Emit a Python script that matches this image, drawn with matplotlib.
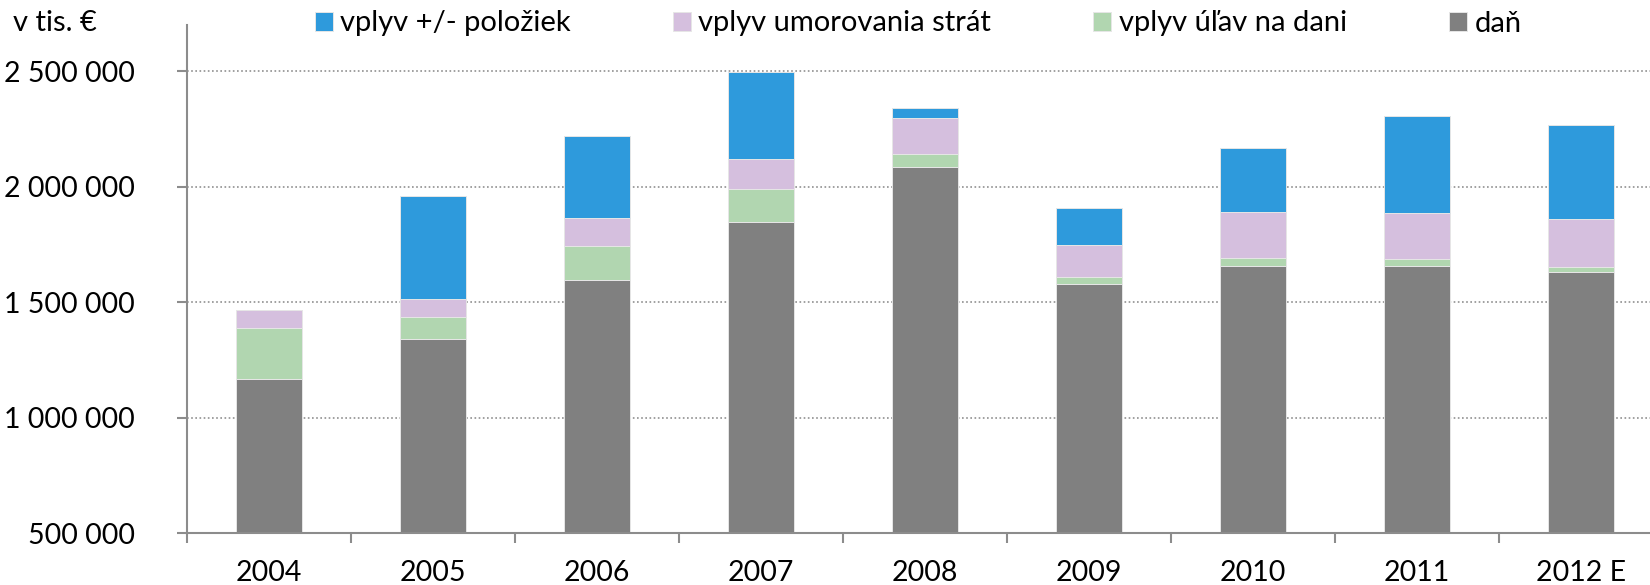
import numpy as np
import matplotlib.pyplot as plt
from matplotlib.ticker import FuncFormatter, FixedLocator

plt.rcParams['font.family'] = ['Lato', 'DejaVu Sans']

# hodnoty v tis. EUR, odčítané z grafu
roky = ["2004", "2005", "2006", "2007", "2008", "2009", "2010", "2011", "2012 E"]
dan = [1168700, 1343100, 1596700, 1847400, 2085100, 1580800, 1657300, 1658600, 1631300]
ulavy = [218000, 92400, 147000, 141400, 56200, 30200, 33200, 27600, 21600]
umorovanie = [79100, 79100, 119700, 129600, 155600, 135700, 200200, 200100, 207500]
polozky = [0, 445200, 355600, 377300, 43200, 161200, 277900, 420600, 406300]

c_blue = "#2E9ADC"
c_lilac = "#D5BFDE"
c_green = "#B1D6B0"
c_gray = "#808080"
c_axis = "#8C8C8C"
fs = 20.5
fs_leg = 21

fig = plt.figure(figsize=(16.5, 5.85), dpi=100)
ax = fig.add_axes([187/1650, 1-533.3/585, 1476/1650, (533.3-25)/585])

x = np.arange(len(roky))
w = 0.4
ek = dict(edgecolor="#E6E6E6", linewidth=0.7, zorder=3)
b0 = np.zeros(len(roky))
h_dan = ax.bar(x, dan, w, bottom=b0, color=c_gray, **ek)
b1 = b0 + np.array(dan)
h_ul = ax.bar(x, ulavy, w, bottom=b1, color=c_green, **ek)
b2 = b1 + np.array(ulavy)
h_um = ax.bar(x, umorovanie, w, bottom=b2, color=c_lilac, **ek)
b3 = b2 + np.array(umorovanie)
h_po = ax.bar(x, polozky, w, bottom=b3, color=c_blue, **ek)

ax.set_xlim(-0.5, len(roky)-0.5)
ax.set_ylim(500000, 2700000)

ax.yaxis.set_major_locator(FixedLocator([500000, 1000000, 1500000, 2000000, 2500000]))
ax.yaxis.set_major_formatter(FuncFormatter(lambda v, p: f"{int(v):,}".replace(",", " ")))
ax.set_xticks(x)
ax.set_xticklabels(roky)
ax.set_xticks(np.arange(-0.5, len(roky)-0.5, 1), minor=True)

ax.tick_params(axis="x", which="major", length=0, pad=19, labelsize=fs)
ax.tick_params(axis="x", which="minor", length=7.5, width=1.5, color=c_axis, direction="out")
ax.tick_params(axis="y", which="major", length=7.5, width=1.5, color=c_axis, pad=30, labelsize=fs)

ax.grid(axis="y", color="#909090", linestyle=(0, (1, 1.5)), linewidth=1.2, zorder=0)
ax.set_axisbelow(True)
for s in ["top", "right"]:
    ax.spines[s].set_visible(False)
for s in ["left", "bottom"]:
    ax.spines[s].set_color(c_axis)
    ax.spines[s].set_linewidth(1.5)
    ax.spines[s].set_zorder(4)

fig.text(13/1650, 1-23/585, "v tis. €", fontsize=fs_leg, va="center", ha="left")

fig.legend([h_po, h_um, h_ul, h_dan],
           ["vplyv +/- položiek", "vplyv umorovania strát", "vplyv úľav na dani", "daň"],
           ncol=4, loc="center left", bbox_to_anchor=(315/1650, 1-23.5/585),
           frameon=False, fontsize=fs_leg, borderpad=0, borderaxespad=0,
           handlelength=0.62, handleheight=0.62, handletextpad=0.25, columnspacing=3.5)

fig.savefig("out.png", dpi=100)
